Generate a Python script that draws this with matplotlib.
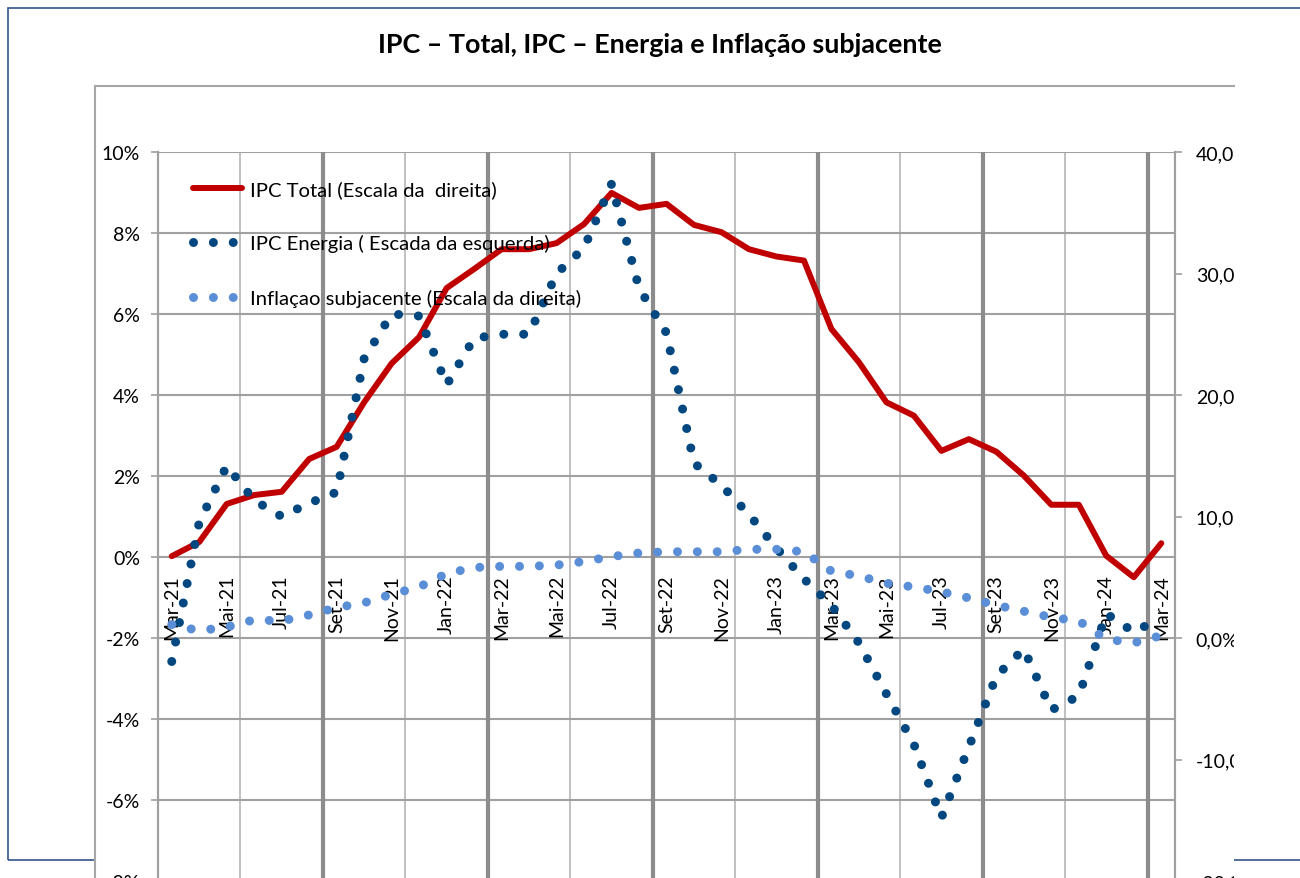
import matplotlib
matplotlib.use("Agg")
import matplotlib.pyplot as plt
from matplotlib.lines import Line2D
from matplotlib.patches import Rectangle
from matplotlib.ticker import FuncFormatter
from matplotlib.transforms import Bbox, TransformedBbox, offset_copy

plt.rcParams['font.family'] = ['Lato', 'DejaVu Sans']

# dados mensais, Mar-21 .. Mar-24
months = ["Mar-21", "Abr-21", "Mai-21", "Jun-21", "Jul-21", "Ago-21", "Set-21", "Out-21",
          "Nov-21", "Dez-21", "Jan-22", "Fev-22", "Mar-22", "Abr-22", "Mai-22", "Jun-22",
          "Jul-22", "Ago-22", "Set-22", "Out-22", "Nov-22", "Dez-22", "Jan-23", "Fev-23",
          "Mar-23", "Abr-23", "Mai-23", "Jun-23", "Jul-23", "Ago-23", "Set-23", "Out-23",
          "Nov-23", "Dez-23", "Jan-24", "Fev-24", "Mar-24"]

ipc_total = [0.02, 0.37, 1.31, 1.53, 1.61, 2.42, 2.72, 3.82, 4.78, 5.43, 6.64, 7.11,
             7.60, 7.60, 7.75, 8.22, 8.99, 8.62, 8.72, 8.20, 8.02, 7.60, 7.42, 7.32,
             5.63, 4.81, 3.82, 3.49, 2.62, 2.91, 2.60, 2.01, 1.29, 1.29, 0.03, -0.50, 0.34]

ipc_energia = [-2.58, 0.86, 2.25, 1.40, 1.00, 1.33, 1.60, 4.90, 6.00, 5.95, 4.25, 5.40,
               5.50, 5.50, 7.00, 7.63, 9.21, 6.64, 5.53, 2.32, 1.77, 1.05, 0.22, -0.54,
               -1.19, -2.12, -3.38, -4.62, -6.44, -4.69, -2.94, -2.27, -3.78, -3.43, -1.40, -1.85, -1.50]

inflacao_subjacente = [1.1, 0.6, 0.9, 1.5, 1.4, 1.9, 2.5, 2.9, 3.6, 4.2, 5.3, 5.8,
                       5.9, 5.9, 6.0, 6.3, 6.7, 7.0, 7.1, 7.1, 7.1, 7.3, 7.3, 7.1,
                       5.5, 5.1, 4.5, 4.2, 3.8, 3.3, 2.7, 2.2, 1.7, 1.4, -0.1, -0.4, 0.2]

legend_labels = ["IPC Total (Escala da  direita)",
                 "IPC Energia ( Escada da esquerda)",
                 "Inflaçao subjacente (Escala da direita)"]
title = "IPC – Total, IPC – Energia e Inflação subjacente"

W, H = 1300, 879
def fx(px):
    return px / W
def fy(py):
    return 1 - py / H

fig = plt.figure(figsize=(13, 8.79), dpi=100)

# moldura exterior e caixa interior
fig.add_artist(Rectangle((fx(8), fy(861)), 1.2, (861 - 9) / H, transform=fig.transFigure,
                         fill=False, ec='#34548a', lw=1.2, zorder=-3))
fig.add_artist(Rectangle((fx(95), -0.1), (1234 - 95) / W, fy(87) + 0.1, transform=fig.transFigure,
                         fc='white', ec='none', zorder=-2))
fig.add_artist(Line2D([fx(95), fx(1234)], [fy(87), fy(87)], transform=fig.transFigure,
                      color='#a6a6a6', lw=1.5, zorder=-1))
fig.add_artist(Line2D([fx(95), fx(95)], [fy(87), -0.1], transform=fig.transFigure,
                      color='#a6a6a6', lw=1.5, zorder=-1))

fig.text(fx(660), fy(45), title, ha='center', va='center', fontsize=19.4, fontweight='bold')

ax = fig.add_axes([fx(158), fy(882), (1175 - 158) / W, (882 - 153) / H])
ax2 = ax.twinx()

x = list(range(len(months)))
ax.set_xlim(-0.5, len(months) - 0.5)
ax.set_ylim(-8, 10)
ax2.set_ylim(-20, 40)

# grelha
ax.set_yticks(range(-8, 11, 2))
ax.yaxis.grid(True, color='#a0a0a0', lw=1.5)
ax.set_axisbelow(True)
for b in range(3, len(months), 3):
    if b % 6 == 0:
        ax.axvline(b - 0.5, color='#8c8c8c', lw=3, zorder=0.6)
    else:
        ax.axvline(b - 0.5, color='#c0c0c0', lw=1.4, zorder=0.5)

for a in (ax, ax2):
    for s in ('top', 'bottom'):
        a.spines[s].set_visible(False)
    a.spines['left'].set_color('#a0a0a0')
    a.spines['right'].set_color('#a0a0a0')
    a.spines['left'].set_linewidth(1.5)
    a.spines['right'].set_linewidth(1.5)
    a.tick_params(axis='x', bottom=False, labelbottom=False)

ax.yaxis.set_major_formatter(FuncFormatter(lambda v, p: f"{v:.0f}%"))
ax.tick_params(axis='y', length=5, width=1.2, color='#a0a0a0', pad=8, labelsize=14)

ax2.set_yticks(range(-20, 41, 10))
ax2.yaxis.set_major_formatter(FuncFormatter(lambda v, p: f"{v:.1f}%".replace('.', ',')))
ax2.tick_params(axis='y', length=5, width=1.2, color='#a0a0a0', pad=10, labelsize=14)
clip = TransformedBbox(Bbox.from_extents(0, 0, fx(1234), 1), fig.transFigure)
for lab in ax2.get_yticklabels():
    lab.set_clip_on(True)
    lab.set_clip_box(clip)

# etiquetas do eixo das categorias (dentro do gráfico, abaixo de 0%)
lab_tr = offset_copy(ax.transData, fig=fig, y=-17, units='dots')
for i in range(0, len(months), 2):
    ax.text(x[i], 0, months[i], transform=lab_tr, rotation=90, ha='center', va='top',
            fontsize=14, zorder=1)

dots = (0, (0.001, 2.2))
l_total, = ax.plot(x, ipc_total, color='#c00000', lw=4.3, solid_capstyle='round',
                   solid_joinstyle='round', zorder=3)
l_energia, = ax.plot(x, ipc_energia, color='#02477f', lw=6.5, linestyle=dots,
                     dash_capstyle='round', zorder=3)
l_core, = ax2.plot(x, inflacao_subjacente, color='#5a8fd8', lw=6.5, linestyle=dots,
                   dash_capstyle='round', zorder=3)

ax2.legend([l_total, l_energia, l_core], legend_labels, loc='upper left',
           bbox_to_anchor=(fx(193), fy(181)), bbox_transform=fig.transFigure,
           frameon=False, fontsize=14.6, handlelength=2.4, handletextpad=0.42,
           labelspacing=1.8, borderpad=0, borderaxespad=0)

fig.savefig("out.png", dpi=100)
